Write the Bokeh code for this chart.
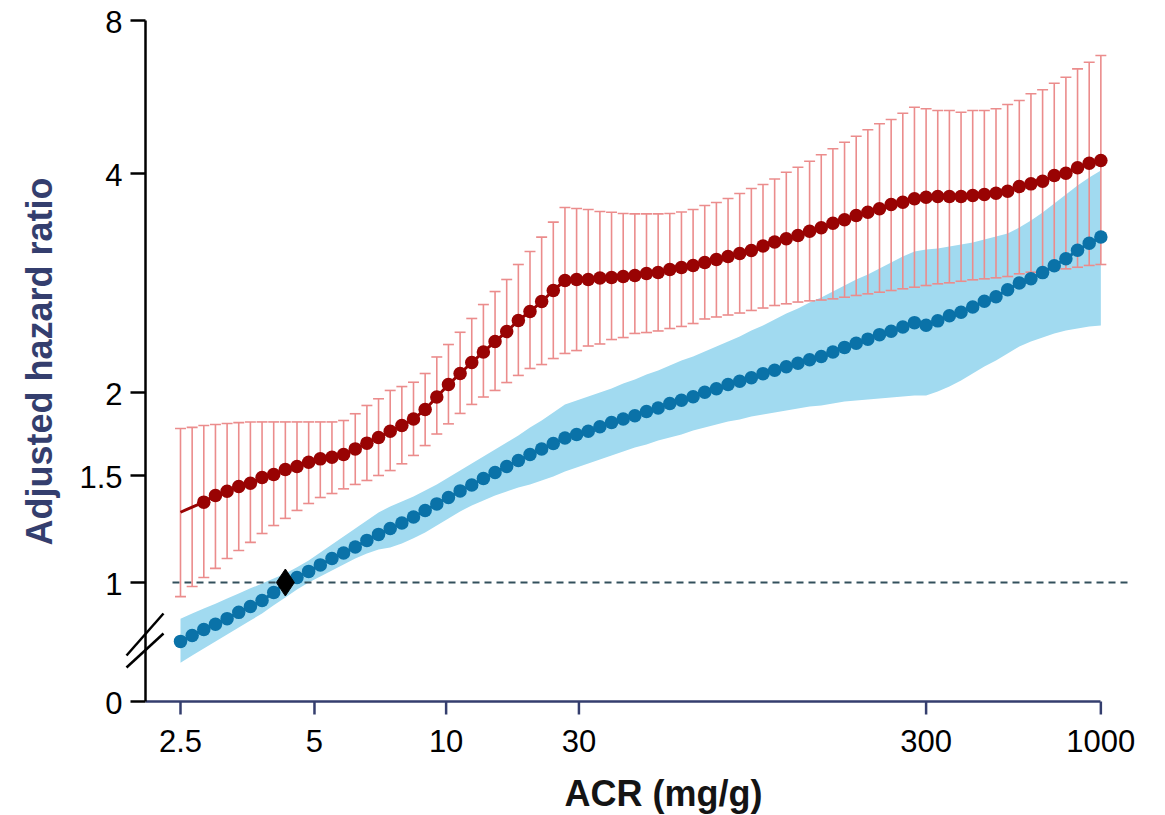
import numpy as np
from bokeh.plotting import figure
from bokeh.models import FixedTicker, Range1d
from bokeh.core.properties import value
from bokeh.embed import file_html
from bokeh.resources import INLINE

# ---------------- data ----------------
# x: 80 evenly spaced points along the ACR grid (index 0 = 2.5 mg/g ... 79 = 1000 mg/g)
acr_tick_labels = ["2.5", "5", "10", "30", "300", "1000"]
acr_tick_index = [0, 11.5, 22.8, 34.2, 64, 79]

hr_tick_labels = ["0", "1", "1.5", "2", "4", "8"]
hr_tick_values = [1, 1.5, 2, 4, 8]

# red series: estimate and 95% CI
red_hr = [1.305, 1.331, 1.356, 1.391, 1.413, 1.439, 1.457, 1.489, 1.505, 1.532,
          1.548, 1.571, 1.589, 1.598, 1.613, 1.645, 1.678, 1.711, 1.749, 1.784,
          1.824, 1.886, 1.969, 2.051, 2.124, 2.199, 2.274, 2.350, 2.426, 2.512,
          2.584, 2.667, 2.762, 2.851, 2.860, 2.860, 2.874, 2.878, 2.887, 2.896,
          2.914, 2.924, 2.952, 2.970, 2.990, 3.018, 3.047, 3.076, 3.105, 3.135,
          3.180, 3.220, 3.253, 3.287, 3.332, 3.369, 3.418, 3.455, 3.502, 3.539,
          3.577, 3.626, 3.653, 3.693, 3.711, 3.719, 3.719, 3.719, 3.731, 3.743,
          3.758, 3.782, 3.839, 3.871, 3.904, 3.975, 4.005, 4.105, 4.191, 4.243]
red_upper = [1.765, 1.772, 1.784, 1.790, 1.796, 1.802, 1.806, 1.806, 1.806, 1.806,
             1.806, 1.806, 1.806, 1.806, 1.815, 1.858, 1.912, 1.957, 2.013, 2.038,
             2.066, 2.124, 2.238, 2.328, 2.420, 2.528, 2.642, 2.753, 2.860, 2.999,
             3.125, 3.270, 3.429, 3.592, 3.581, 3.570, 3.547, 3.539, 3.524, 3.520,
             3.520, 3.520, 3.524, 3.541, 3.570, 3.615, 3.650, 3.696, 3.755, 3.815,
             3.863, 3.931, 4.024, 4.116, 4.229, 4.354, 4.474, 4.609, 4.736, 4.876,
             5.010, 5.108, 5.257, 5.401, 5.362, 5.321, 5.321, 5.280, 5.321, 5.321,
             5.362, 5.468, 5.568, 5.739, 5.844, 6.022, 6.187, 6.427, 6.623, 6.827]
red_lower = [0.948, 0.985, 1.019, 1.055, 1.095, 1.129, 1.164, 1.204, 1.241, 1.275,
             1.314, 1.349, 1.380, 1.401, 1.426, 1.450, 1.472, 1.500, 1.526, 1.562,
             1.608, 1.664, 1.732, 1.794, 1.860, 1.919, 1.969, 2.013, 2.064, 2.111,
             2.158, 2.185, 2.227, 2.263, 2.284, 2.317, 2.332, 2.365, 2.380, 2.411,
             2.418, 2.430, 2.449, 2.465, 2.488, 2.524, 2.540, 2.556, 2.572, 2.593,
             2.613, 2.634, 2.648, 2.663, 2.673, 2.680, 2.690, 2.704, 2.719, 2.733,
             2.747, 2.762, 2.777, 2.791, 2.806, 2.821, 2.830, 2.844, 2.857, 2.866,
             2.875, 2.887, 2.912, 2.927, 2.942, 2.949, 2.958, 2.973, 2.990, 2.999]
red_first_dot = 2

# blue series: estimate and 95% CI band
blue_hr = [0.800, 0.818, 0.837, 0.854, 0.872, 0.893, 0.913, 0.934, 0.963, 1.000,
           1.019, 1.043, 1.069, 1.095, 1.118, 1.144, 1.173, 1.200, 1.227, 1.253,
           1.282, 1.314, 1.347, 1.380, 1.415, 1.447, 1.483, 1.516, 1.548, 1.580,
           1.613, 1.644, 1.676, 1.708, 1.729, 1.749, 1.776, 1.802, 1.824, 1.845,
           1.873, 1.895, 1.925, 1.947, 1.971, 2.002, 2.024, 2.051, 2.073, 2.096,
           2.123, 2.146, 2.170, 2.194, 2.218, 2.242, 2.274, 2.307, 2.337, 2.368,
           2.402, 2.428, 2.460, 2.495, 2.474, 2.509, 2.550, 2.579, 2.621, 2.670,
           2.708, 2.768, 2.829, 2.866, 2.923, 2.988, 3.054, 3.138, 3.207, 3.271]
blue_upper = [0.872, 0.889, 0.906, 0.923, 0.941, 0.959, 0.978, 0.996, 1.015, 1.035,
              1.059, 1.087, 1.120, 1.155, 1.190, 1.227, 1.265, 1.304, 1.334, 1.359,
              1.385, 1.417, 1.450, 1.489, 1.526, 1.564, 1.602, 1.641, 1.682, 1.723,
              1.772, 1.815, 1.866, 1.919, 1.945, 1.972, 2.000, 2.026, 2.058, 2.084,
              2.117, 2.144, 2.179, 2.213, 2.241, 2.277, 2.313, 2.350, 2.388, 2.434,
              2.473, 2.520, 2.568, 2.609, 2.659, 2.702, 2.753, 2.806, 2.860, 2.905,
              2.961, 3.018, 3.076, 3.125, 3.145, 3.155, 3.175, 3.195, 3.216, 3.246,
              3.277, 3.308, 3.372, 3.448, 3.536, 3.638, 3.743, 3.851, 3.950, 4.055]
blue_lower = [0.738, 0.758, 0.779, 0.800, 0.821, 0.843, 0.866, 0.889, 0.917, 0.945,
              0.974, 1.000, 1.023, 1.047, 1.071, 1.095, 1.116, 1.133, 1.142, 1.159,
              1.182, 1.209, 1.241, 1.275, 1.309, 1.339, 1.365, 1.391, 1.412, 1.433,
              1.450, 1.472, 1.494, 1.521, 1.542, 1.564, 1.586, 1.608, 1.630, 1.653,
              1.670, 1.693, 1.711, 1.729, 1.753, 1.772, 1.790, 1.809, 1.821, 1.840,
              1.853, 1.866, 1.879, 1.892, 1.905, 1.912, 1.925, 1.939, 1.945, 1.952,
              1.959, 1.966, 1.972, 1.979, 1.979, 2.006, 2.038, 2.077, 2.124, 2.172,
              2.213, 2.263, 2.313, 2.350, 2.380, 2.411, 2.434, 2.449, 2.465, 2.473]

reference_index = 9
reference_hr = 1.0

x_title = "ACR (mg/g)"
y_title = "Adjusted hazard ratio"

# ---------------- axis geometry (broken, stretched log axis) ----------------
# vertical display units = pixels above the x axis line
HR_AXIS_POS = [119, 226, 309, 528, 681]   # display position of 1, 1.5, 2, 4, 8
ZERO_POS = 0
LOG_T = np.log2(hr_tick_values)
SLOPE0 = (HR_AXIS_POS[1] - HR_AXIS_POS[0]) / (LOG_T[1] - LOG_T[0])


def ymap(v):
    lv = np.log2(np.asarray(v, dtype=float))
    d = np.interp(lv, LOG_T, HR_AXIS_POS)
    below = lv < 0
    d[below] = HR_AXIS_POS[0] + lv[below] * SLOPE0
    return d


n = len(red_hr)
idx = np.arange(n, dtype=float)

# page geometry
W, H = 1165, 815
PX = 11.65            # pixels per grid step
X_FIRST = 180         # pixel column of grid index 0
AXIS_ROW = 701        # pixel row of the x axis line
AXIS_COL = 145        # pixel column of the y axis line


def gx(px):           # pixel column -> grid units
    return (px - X_FIRST) / PX


def gy(py):           # pixel row -> display units
    return AXIS_ROW - py


FONT = "Liberation Sans"
NAVY = "#343e6e"

p = figure(width=W, height=H,
           x_range=Range1d(gx(0), gx(W)),
           y_range=Range1d(gy(H), gy(0)),
           output_backend="svg", toolbar_location=None,
           min_border_left=0, min_border_right=0, min_border_top=0, min_border_bottom=0)
p.grid.visible = False
p.outline_line_color = None
p.background_fill_color = "white"
p.border_fill_color = "white"


def bare_axis(ax, color):
    ax.ticker = FixedTicker(ticks=[], minor_ticks=[])
    ax.axis_line_color = color
    ax.axis_line_width = 2.5
    ax.major_tick_out = 0
    ax.major_tick_in = 0
    ax.minor_tick_out = 0
    ax.minor_tick_in = 0
    ax.major_label_standoff = 0
    ax.major_label_text_font_size = "0px"


# x axis line (ticks and labels drawn as glyphs)
xa = p.xaxis[0]
bare_axis(xa, NAVY)
xa.fixed_location = 0
xa.bounds = (gx(AXIS_COL), acr_tick_index[-1])

# y axis line
ya = p.yaxis[0]
bare_axis(ya, "black")
ya.fixed_location = gx(AXIS_COL)
ya.bounds = (ZERO_POS, HR_AXIS_POS[-1])
y_ticks = [ZERO_POS] + HR_AXIS_POS

# x ticks and labels
p.segment(x0=acr_tick_index, y0=[0] * 6, x1=acr_tick_index, y1=[-13] * 6,
          line_color=NAVY, line_width=2.5)
p.text(x=acr_tick_index, y=[gy(740.5)] * 6, text=acr_tick_labels,
       text_align="center", text_baseline="middle",
       text_font=value(FONT), text_font_size="31px", text_color="black")

# y ticks and labels
p.segment(x0=[gx(AXIS_COL - 15)] * 6, y0=y_ticks, x1=[gx(AXIS_COL)] * 6, y1=y_ticks,
          line_color="black", line_width=2.5)
p.text(x=[gx(122)] * 6, y=[t - 1.5 for t in y_ticks], text=hr_tick_labels,
       text_align="right", text_baseline="middle",
       text_font=value(FONT), text_font_size="31px", text_color="black")

# axis titles
p.text(x=[gx(663)], y=[gy(793)], text=[x_title], text_align="center",
       text_baseline="middle", text_font=value(FONT), text_font_size="36px",
       text_font_style="bold", text_color="#141414")
p.text(x=[gx(38.5)], y=[gy(361)], text=[y_title], angle=np.pi / 2, text_align="center",
       text_baseline="middle", text_font=value(FONT), text_font_size="36px",
       text_font_style="bold", text_color=NAVY)

# axis break marks
p.segment(x0=[gx(126), gx(126)], y0=[gy(655), gy(667)],
          x1=[gx(163), gx(163)], y1=[gy(613), gy(633)],
          line_color="black", line_width=2.5)

# blue CI band
p.varea(x=idx, y1=ymap(blue_lower), y2=ymap(blue_upper), fill_color="#a1daf0", fill_alpha=1.0)

# reference line at HR = 1
y1 = ymap([1.0])[0]
p.segment(x0=[gx(172)], y0=[y1], x1=[gx(1130)], y1=[y1], line_color="#33505c",
          line_width=2, line_dash="7 5")

# red error bars
ru, rl = ymap(red_upper), ymap(red_lower)
ERR = "#eb8c8c"
CAP = 0.47
p.segment(x0=idx, y0=rl, x1=idx, y1=ru, line_color=ERR, line_width=1.6)
p.segment(x0=idx - CAP, y0=ru, x1=idx + CAP, y1=ru, line_color=ERR, line_width=1.6)
p.segment(x0=idx - CAP, y0=rl, x1=idx + CAP, y1=rl, line_color=ERR, line_width=1.6)

# blue series
by = ymap(blue_hr)
BLUE = "#0a72a8"
p.line(idx, by, line_color=BLUE, line_width=3)
p.scatter(idx, by, size=13.5, fill_color=BLUE, line_color=None)

# red series
ry = ymap(red_hr)
RED = "#990303"
p.line(idx, ry, line_color=RED, line_width=3)
p.scatter(idx[red_first_dot:], ry[red_first_dot:], size=13.5, fill_color=RED, line_color=None)

# reference point
p.scatter([float(reference_index)], ymap([reference_hr]), marker="diamond", size=27,
          fill_color="black", line_color="black")

open("out.html", "w").write(file_html(p, INLINE))
